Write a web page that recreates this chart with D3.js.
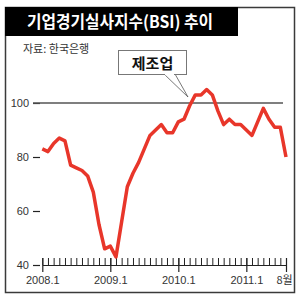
<!DOCTYPE html>
<html><head><meta charset="utf-8">
<script src="https://cdn.jsdelivr.net/npm/d3@7"></script>
<style>
html,body{margin:0;padding:0;background:#fff;}
svg{display:block;}
</style></head>
<body>
<svg id="c" width="300" height="297"></svg>
<script>
// Manufacturing BSI, monthly 2008.1 – 2011.8
const months = d3.range(44);
const bsi = [83,82,85,87,86,77,76,75,73,67,55,46,
             47,43,56,69,74,78,83,88,90,92,89,89,
             93,94,99,103,103,105,103,97,92,94,92,92,
             90,88,93,98,94,91,91,80];
const majorTicks = [0,12,24,36,43];
const majorLabels = ["2008.1","2009.1","2010.1","2011.1","8월"];
const yTicks = [40,60,80,100];
const title = "기업경기실사지수(BSI) 추이";
const source = "자료: 한국은행";
const callout = "제조업";

const svg = d3.select("#c");
const x = d3.scaleLinear().domain([0,43]).range([42.3,286]);
const y = d3.scaleLinear().domain([40,100]).range([265,103]);
const numFont = "'Liberation Sans Narrow','Liberation Sans',Arial,sans-serif";
const krFont = "'Noto Sans CJK KR','Noto Sans',sans-serif";

// frame
svg.append("rect").attr("x",5.5).attr("y",7.5).attr("width",289).attr("height",285)
  .attr("fill","#fff").attr("stroke","#3a3a3a").attr("stroke-width",1.5);
svg.append("rect").attr("x",5).attr("y",7).attr("width",233).attr("height",29).attr("fill","#000");
svg.append("text").attr("x",27).attr("y",28).attr("fill","#fff")
  .attr("font-family",krFont).attr("font-weight",700).attr("font-size",17)
  .attr("textLength",186).attr("lengthAdjust","spacingAndGlyphs").text(title);
svg.append("text").attr("x",23).attr("y",53).attr("fill","#333")
  .attr("font-family",krFont).attr("font-size",11).text(source);

// y axis
const yAxis = d3.axisLeft(y).tickValues(yTicks).tickSize(7).tickPadding(4);
const gy = svg.append("g").attr("transform","translate(40,0)").call(yAxis);
gy.select(".domain").remove();
gy.selectAll(".tick line").attr("stroke","#222").attr("stroke-width",1.2);
gy.selectAll(".tick text").attr("font-family",numFont).attr("font-size",11).attr("fill","#333");
// gridline at 100
svg.append("line").attr("x1",33).attr("x2",283).attr("y1",y(100)).attr("y2",y(100))
  .attr("stroke","#555").attr("stroke-width",1.5);

// x axis minor
const xMinor = d3.axisBottom(x).tickValues(months).tickSizeInner(-7).tickSizeOuter(0).tickFormat("");
const gx = svg.append("g").attr("transform",`translate(0,${y(40)})`).call(xMinor);
gx.select(".domain").attr("stroke","#222").attr("stroke-width",1.2);
gx.selectAll(".tick line").attr("stroke","#222").attr("stroke-width",1);
// x axis major
const xMajor = d3.axisBottom(x).tickValues(majorTicks).tickSizeInner(7).tickSizeOuter(0).tickPadding(4)
  .tickFormat((d,i)=>majorLabels[i]);
const gx2 = svg.append("g").attr("transform",`translate(0,${y(40)})`).call(xMajor);
gx2.select(".domain").remove();
gx2.selectAll(".tick line").attr("stroke","#222").attr("stroke-width",1.2).attr("y1",-7);
gx2.selectAll(".tick text").attr("font-family",(d,i)=>i===4?krFont:numFont)
  .attr("font-size",11).attr("fill","#333").attr("dx",(d,i)=>i===4?-2:0);

// callout
svg.append("polygon").attr("points","164,74 175,74 188,97")
  .attr("fill","#fff").attr("stroke","#555").attr("stroke-width",0.8);
svg.append("rect").attr("x",118.5).attr("y",50.5).attr("width",68).attr("height",24)
  .attr("fill","#fff").attr("stroke","#777").attr("stroke-width",1);
svg.append("line").attr("x1",165).attr("x2",174).attr("y1",74.5).attr("y2",74.5).attr("stroke","#fff").attr("stroke-width",1.5);
svg.append("text").attr("x",152.5).attr("y",68.5).attr("text-anchor","middle")
  .attr("font-family",krFont).attr("font-weight",700).attr("font-size",15).attr("fill","#111").text(callout);

// line
const line = d3.line().x((d,i)=>x(months[i])).y(d=>y(d));
svg.append("path").datum(bsi).attr("d",line).attr("fill","none")
  .attr("stroke","#e8362a").attr("stroke-width",3.5).attr("stroke-linejoin","round");
</script>
</body></html>
